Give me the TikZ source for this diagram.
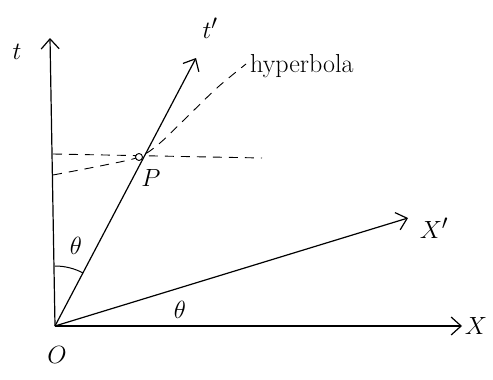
\documentclass[tikz,border=0pt]{standalone}
\usetikzlibrary{arrows.meta}
\begin{document}
\begin{tikzpicture}[
    x=1pt, y=-1pt,
    axis/.style={line width=1.2pt, -{Straight Barb[length=10pt,width=18pt,line width=1.2pt]}},
    guide/.style={line width=0.9pt, dash pattern=on 9pt off 7pt},
    mylabel/.style={font=\fontsize{30}{30}\selectfont}
]
    \useasboundingbox (0,0) rectangle (493,380);

    % origin and axis ends
    \coordinate (O) at (55,326);
    \coordinate (ttip) at (50,38);
    \coordinate (tptip) at (196,58);
    \coordinate (xptip) at (408,218);
    \coordinate (xtip) at (462,326);
    \coordinate (P) at (139,157);

    % axes
    \draw[axis] (O) -- (ttip);
    \draw[axis] (O) -- (xtip);
    \draw[axis] (O) -- (tptip);
    \draw[axis] (O) -- (xptip);

    % hyperbola and simultaneity line
    \draw[guide] plot[smooth] coordinates {(53,175) (105,165) (P) (160,143) (190,114) (218,87) (246,64)};
    \draw[guide] (53,154) -- (262,158);
    \draw[line width=0.9pt, fill=white] (P) circle (3.5pt);

    % angle between t and t'
    \draw[line width=1pt] (O) ++(0,-60) arc[start angle=-90, end angle=-62, radius=60];

    % labels
    \node[mylabel] (tlab) at (17,52) {$t$};
    \node[mylabel] (tplab) at (210,28) {$t'$};
    \node[mylabel] (xlab) at (476,326) {$X$};
    \node[mylabel] (xplab) at (434,228) {$X'$};
    \node[mylabel] (olab) at (57,355) {$O$};
    \node[mylabel] (plab) at (151,178) {$P$};
    \node[font=\fontsize{24}{24}\selectfont] (thetaup) at (76,246) {$\theta$};
    \node[font=\fontsize{24}{24}\selectfont] (thetalow) at (180,310) {$\theta$};
    \node[font=\fontsize{26}{26}\selectfont, anchor=west, inner sep=0pt] (hyplab) at (250,66) {hyperbola};
\end{tikzpicture}
\end{document}
